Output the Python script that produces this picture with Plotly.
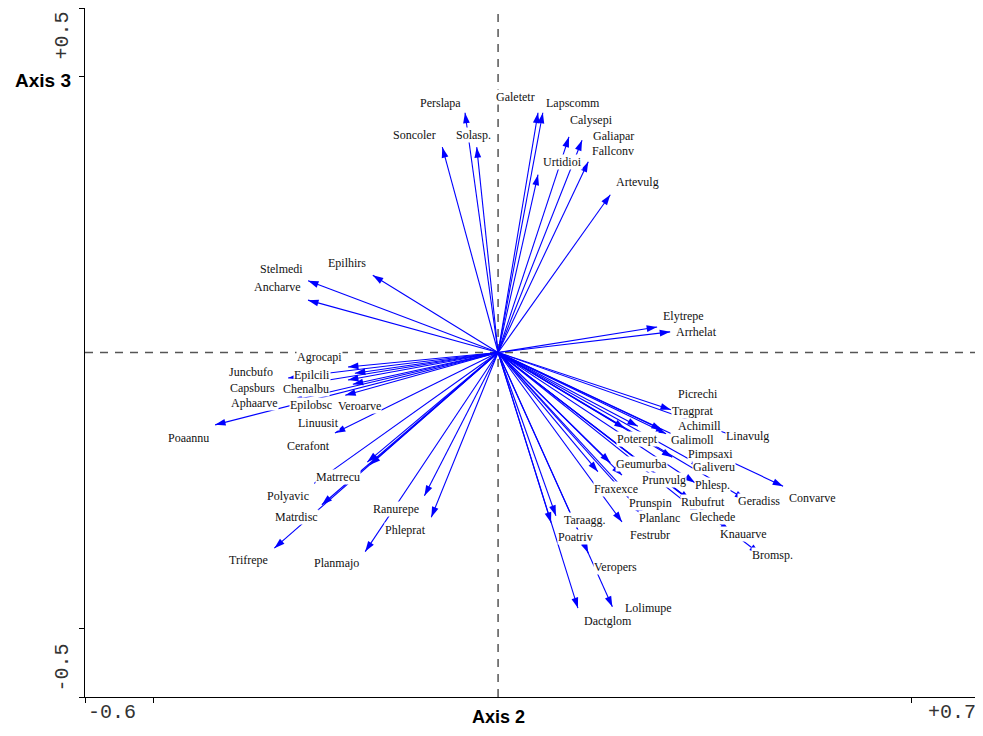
import math
import plotly.graph_objects as go

species = ["Perslapa","Soncoler","Solasp.","Galetetr","Lapscomm","Urtidioi","Calysepi","Galiapar","Fallconv","Artevulg",
           "Epilhirs","Stelmedi","Ancharve","Elytrepe","Arrhelat",
           "Agrocapi","Juncbufo","Epilcili","Chenalbu","Epilobsc","Veroarve","Capsburs","Aphaarve","Poaannu","Linuusit",
           "Cerafont","Matrrecu","Polyavic","Matrdisc","Trifrepe","Ranurepe","Phleprat","Planmajo",
           "Tragprat","Picrechi","Achimill","Galimoll","Linavulg","Poterept","Pimpsaxi","Geumurba","Galiveru","Prunvulg",
           "Phlesp.","Fraxexce","Prunspin","Rubufrut","Geradiss","Convarve","Planlanc","Glechede","Festrubr","Knauarve",
           "Bromsp.","Taraagg.","Poatriv","Veropers","Lolimupe","Dactglom"]

axis2 = [-0.048,-0.081,-0.031,0.058,0.065,0.058,0.103,0.122,0.131,0.163,
         -0.182,-0.276,-0.276,0.231,0.250,
         -0.218,-0.305,-0.208,-0.218,-0.211,-0.222,-0.302,-0.299,-0.411,-0.237,
         -0.186,-0.190,-0.267,-0.256,-0.325,-0.107,-0.097,-0.193,
         0.251,0.203,0.238,0.244,0.351,0.184,0.253,0.163,0.296,0.180,
         0.286,0.145,0.200,0.279,0.359,0.414,0.213,0.293,0.180,0.337,
         0.380,0.084,0.077,0.131,0.166,0.116]

axis3 = [0.348,0.298,0.298,0.348,0.348,0.258,0.313,0.308,0.277,0.229,
         0.112,0.104,0.076,0.037,0.030,
         -0.021,-0.037,-0.030,-0.040,-0.046,-0.062,-0.049,-0.070,-0.105,-0.117,
         -0.163,-0.159,-0.190,-0.221,-0.284,-0.208,-0.239,-0.289,
         -0.083,-0.107,-0.112,-0.118,-0.124,-0.110,-0.152,-0.160,-0.165,-0.178,
         -0.189,-0.173,-0.217,-0.214,-0.213,-0.194,-0.237,-0.234,-0.246,-0.260,
         -0.292,-0.237,-0.247,-0.291,-0.369,-0.371]

label_x = [-0.084,-0.122,-0.035,0.025,0.109,0.094,0.135,0.167,0.167,0.203,
           -0.219,-0.315,-0.320,0.269,0.288,
           -0.260,-0.359,-0.270,-0.279,-0.272,-0.202,-0.356,-0.354,-0.449,-0.261,
           -0.276,-0.232,-0.305,-0.293,-0.362,-0.148,-0.135,-0.235,
           0.283,0.290,0.292,0.282,0.363,0.203,0.308,0.209,0.314,0.241,
           0.312,0.171,0.222,0.298,0.379,0.456,0.235,0.312,0.221,0.357,
           0.398,0.126,0.112,0.171,0.218,0.160]

label_y = [0.362,0.316,0.316,0.371,0.362,0.276,0.337,0.314,0.293,0.248,
           0.130,0.121,0.095,0.053,0.030,
           -0.007,-0.028,-0.033,-0.053,-0.076,-0.078,-0.052,-0.073,-0.124,-0.102,
           -0.136,-0.181,-0.208,-0.239,-0.301,-0.227,-0.257,-0.305,
           -0.085,-0.060,-0.107,-0.127,-0.121,-0.126,-0.147,-0.162,-0.166,-0.185,
           -0.192,-0.198,-0.218,-0.217,-0.216,-0.211,-0.240,-0.239,-0.265,-0.263,
           -0.294,-0.243,-0.268,-0.311,-0.371,-0.390]

x_range = [-0.6, 0.7]
y_range = [-0.5, 0.5]
x_ticks = [-0.6, -0.5, 0.6, 0.7]
y_ticks = [-0.5, -0.4, 0.4, 0.5]

fig = go.Figure()

# arrow shafts
lx, ly = [], []
for xv, yv in zip(axis2, axis3):
    lx += [0, xv, None]
    ly += [0, yv, None]
fig.add_trace(go.Scatter(x=lx, y=ly, mode="lines", line=dict(color="#0000ff", width=1.1),
                         hoverinfo="skip", showlegend=False))

# arrow heads
angles = [math.degrees(math.atan2(xv, yv)) for xv, yv in zip(axis2, axis3)]
fig.add_trace(go.Scatter(x=axis2, y=axis3, mode="markers",
                         marker=dict(symbol="arrow", size=11, angle=angles, color="#0000ff",
                                     line=dict(width=0)),
                         hoverinfo="skip", showlegend=False))

# dashed zero lines
fig.add_shape(type="line", x0=0, x1=0, y0=y_range[0], y1=y_range[1], layer="below",
              line=dict(color="#555555", width=1.5, dash="8px,7px"))
fig.add_shape(type="line", x0=x_range[0], x1=x_range[1], y0=0, y1=0, layer="below",
              line=dict(color="#555555", width=1.5, dash="8px,7px"))

# species labels with white background
for name, tx, ty in zip(species, label_x, label_y):
    fig.add_annotation(x=tx, y=ty, text=name, showarrow=False,
                       font=dict(family="Liberation Serif", size=12, color="#111111"),
                       bgcolor="white", borderpad=0, xanchor="center", yanchor="middle")

mono = dict(family="Liberation Mono", size=20, color="#333333")
fig.add_annotation(x=x_range[0], y=y_range[0], xref="x", yref="y", text="-0.6", showarrow=False,
                   font=mono, xanchor="left", yanchor="top", yshift=-2, xshift=1)
fig.add_annotation(x=x_range[1], y=y_range[0], xref="x", yref="y", text="+0.7", showarrow=False,
                   font=mono, xanchor="right", yanchor="top", yshift=-2, xshift=-2)
fig.add_annotation(x=x_range[0], y=y_range[1], xref="x", yref="y", text="+0.5", showarrow=False,
                   font=mono, textangle=-90, xanchor="right", yanchor="top", xshift=-10, yshift=-2)
fig.add_annotation(x=x_range[0], y=y_range[0], xref="x", yref="y", text="-0.5", showarrow=False,
                   font=mono, textangle=-90, xanchor="right", yanchor="bottom", xshift=-10, yshift=3)

fig.add_annotation(x=0, y=y_range[0], text="<b>Axis 2</b>", showarrow=False,
                   font=dict(family="Liberation Sans", size=18, color="black"),
                   xanchor="center", yanchor="top", yshift=-8)
fig.add_annotation(x=x_range[0], y=y_ticks[2], text="<b>Axis 3</b>", showarrow=False,
                   font=dict(family="Liberation Sans", size=19, color="black"),
                   xanchor="right", yanchor="middle", xshift=-12, yshift=-4)

fig.update_xaxes(range=x_range, tickvals=x_ticks, showticklabels=False, ticks="outside", ticklen=5,
                 tickcolor="black", showline=True, linecolor="black", linewidth=1, mirror=True,
                 showgrid=False, zeroline=False)
fig.update_yaxes(range=y_range, tickvals=y_ticks, showticklabels=False, ticks="outside", ticklen=5,
                 tickcolor="black", showline=True, linecolor="black", linewidth=1, mirror=True,
                 showgrid=False, zeroline=False)

# page body adds an 8px margin, so the figure is sized to fit the 983x736 window
fig.update_layout(width=975, height=720, margin=dict(l=77, r=3, t=0, b=31),
                  plot_bgcolor="white", paper_bgcolor="white", showlegend=False)

fig.write_html("out.html")
